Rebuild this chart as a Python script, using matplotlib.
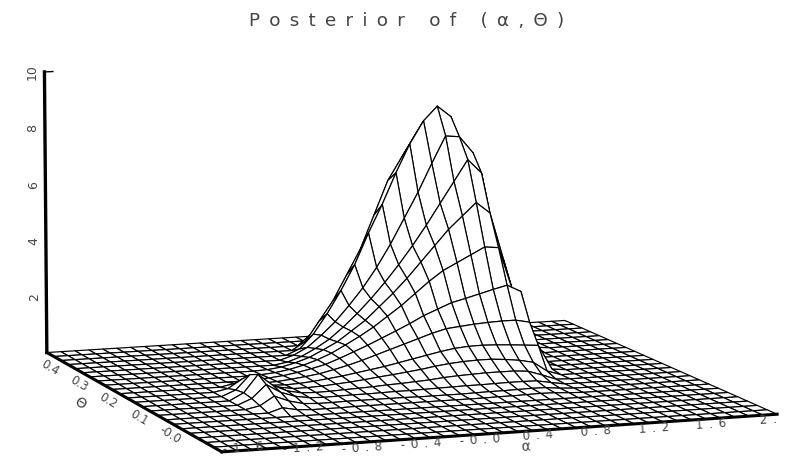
import matplotlib
matplotlib.use("Agg")
import matplotlib.pyplot as plt
import numpy as np
from mpl_toolkits.mplot3d import proj3d

W, H = 785, 458

alpha_grid = np.linspace(-1.8, 2.0, 39)
theta_grid = np.linspace(-0.14, 0.4375, 24)
alpha_ticks = [-1.6, -1.2, -0.8, -0.4, 0.0, 0.4, 0.8, 1.2, 1.6, 2.0]
alpha_labels = ["-1.6", "-1.2", "-0.8", "-0.4", "-0.0", "0.4", "0.8", "1.2", "1.6", "2."]
theta_ticks = [0.0, 0.1, 0.2, 0.3, 0.4]
theta_labels = ["-0.0", "0.1", "0.2", "0.3", "0.4"]
z_ticks = [2, 4, 6, 8, 10]

# heights: theta rows 7..23, alpha columns 7..32, flat elsewhere
z_rows = [
    [0, .15, .05, .02, .02, .02, .03, .03, .03, .03, .03, .03, .03, .03, .03, .03, .04, .04, .05, .06, .05, .02, 0, 0, 0, 0],
    [.1, .4, .2, .08, .05, .05, .06, .06, .06, .06, .06, .05, .05, .05, .05, .06, .07, .07, .08, .09, .08, .03, 0, 0, 0, 0],
    [.2, .65, .35, .18, .1, .08, .09, .1, .1, .11, .12, .12, .13, .14, .15, .16, .16, .17, .18, .18, .17, .08, 0, 0, 0, 0],
    [.25, .85, .45, .22, .12, .1, .11, .13, .15, .17, .2, .22, .25, .28, .33, .36, .38, .4, .4, .4, .36, .2, .02, 0, 0, 0],
    [.2, .7, .35, .2, .12, .12, .14, .18, .22, .27, .33, .38, .44, .5, .58, .64, .68, .7, .7, .66, .6, .5, .16, 0, 0, 0],
    [.1, .4, .25, .12, .1, .12, .16, .22, .28, .36, .44, .52, .62, .72, .82, .92, 1, 1.04, 1.05, 1.03, 1, .96, .92, .05, 0, 0],
    [0, .1, .1, .05, .07, .12, .18, .25, .36, .48, .62, .78, .94, 1.1, 1.26, 1.42, 1.55, 1.6, 1.65, 1.68, 1.7, 1.7, 1.6, .1, 0, 0],
    [0, 0, 0, .02, .05, .1, .18, .28, .4, .58, .78, .98, 1.2, 1.42, 1.65, 1.9, 2.1, 2.3, 2.42, 2.55, 2.68, 2.8, 2.55, .5, 0, 0],
    [0, 0, 0, 0, .02, .06, .14, .26, .42, .62, .88, 1.15, 1.45, 1.8, 2.15, 2.55, 2.95, 3.3, 3.55, 3.8, 4.05, 4, 2.5, .9, 0, 0],
    [0, 0, 0, 0, 0, .02, .08, .2, .36, .6, .85, 1.2, 1.55, 2, 2.45, 2.95, 3.5, 4.05, 4.6, 5.05, 5.5, 5.1, 3.4, 1.7, .3, 0],
    [0, 0, 0, 0, 0, 0, 0, .08, .25, .5, .8, 1.2, 1.65, 2.15, 2.7, 3.3, 3.95, 4.65, 5.4, 6.15, 6.9, 6.4, 4, 2.2, .6, .05],
    [0, 0, 0, 0, 0, 0, 0, 0, .15, .4, .8, 1.25, 1.8, 2.4, 3.1, 3.9, 4.8, 5.7, 6.7, 7.65, 7.6, 7, 4.8, 2.6, .9, .2],
    [0, 0, 0, 0, 0, 0, 0, 0, 0, .2, .7, 1.4, 2.2, 3.1, 4.2, 5.2, 6.3, 7.3, 8.1, 8.6, 8.2, 6.8, 4.4, 2.4, 1, .3],
    [0, 0, 0, 0, 0, 0, 0, 0, 0, 0, .3, 1, 1.7, 2.6, 3.5, 4.7, 5.9, 6.7, 7.5, 8.1, 7.6, 6, 4, 2, .9, .3],
    [0, 0, 0, 0, 0, 0, 0, 0, 0, 0, 0, .4, 1, 1.7, 2.7, 3.7, 4.9, 5.9, 6.6, 7, 6.6, 5, 3, 1.4, .6, .2],
    [0, 0, 0, 0, 0, 0, 0, 0, 0, 0, 0, 0, .3, .8, 1.6, 2.4, 3.3, 4.2, 4.8, 5.2, 4.8, 3.5, 2, .8, .3, .1],
    [0, 0, 0, 0, 0, 0, 0, 0, 0, 0, 0, 0, 0, .2, .6, 1.1, 1.7, 2.3, 2.8, 3, 2.7, 1.9, 1, .3, .1, 0],
]

Z = np.zeros((len(theta_grid), len(alpha_grid)))
Z[7:24, 7:33] = np.array(z_rows)
a0, a1 = alpha_grid[0], alpha_grid[-1]
t0, t1 = theta_grid[0], theta_grid[-1]

TEXT = "#444444"
GAP = "\u2002"


def spaced(label):
    return GAP.join(label)


fig = plt.figure(figsize=(W / 100, H / 100), dpi=100)
# camera fitted to the corners of the base plane
ax = fig.add_axes([-26.24 / W, (H - 668.14) / H, 835.18 / W, 835.18 / H], projection="3d")
ax.set_xlim(a0, a1)
ax.set_ylim(t0, t1)
ax.set_zlim(0, 10)
ax.view_init(elev=9.08729, azim=-109.84427)
ax.set_proj_type("persp", focal_length=1.46713)
ax.set_box_aspect((1, 1.00228, 0.50945))
ax.set_axis_off()

ax.plot_surface(*np.meshgrid(alpha_grid, theta_grid), Z, rstride=1, cstride=1, color="white",
                edgecolor="black", linewidth=0.85, shade=False, antialiased=True)

ax.plot([a0, a0], [t1, t1], [0, 10], color="black", lw=2.4, zorder=50)
ax.plot([a0, a0], [t0, t1], [0, 0], color="black", lw=2.2, zorder=50)
ax.plot([a0, a1], [t0, t0], [0, 0], color="black", lw=2.2, zorder=50)
ax.plot([a0, a0 + 0.06], [t1, t1], [10, 10], color="black", lw=1.0, zorder=50)

ax.apply_aspect()
proj = ax.get_proj()


def label_at(a, t, z, text, dx, dy, **kwargs):
    # label next to a data point, offset in pixels
    x2, y2, _ = proj3d.proj_transform(a, t, z, proj)
    px, py = ax.transData.transform((x2, y2))
    fig.text((px + dx) / W, max(py - dy, 10) / H, text, ha="center", va="center", color=TEXT, **kwargs)


for tick in z_ticks:
    label_at(a0, t1, tick, str(tick), -12, 0, rotation=90, fontsize=9)
for tick, label in zip(alpha_ticks, alpha_labels):
    label_at(tick, t0, 0, spaced(label), -9, 6, rotation=4, fontsize=8.5)
for tick, label in zip(theta_ticks, theta_labels):
    label_at(a0, tick, 0, label, -7, 9, rotation=-31, fontsize=8.5)

fig.text(526 / W, 1 - 447 / H, "α", ha="center", va="center", rotation=4, fontsize=10, color=TEXT)
fig.text(80 / W, 1 - 403 / H, "Θ", ha="center", va="center", rotation=-31, fontsize=10, color=TEXT)
fig.text(407 / W, 1 - 21 / H, spaced("Posterior of (α,Θ)"), ha="center", va="center", fontsize=13.2, color=TEXT)

fig.savefig("out.png", dpi=100)
